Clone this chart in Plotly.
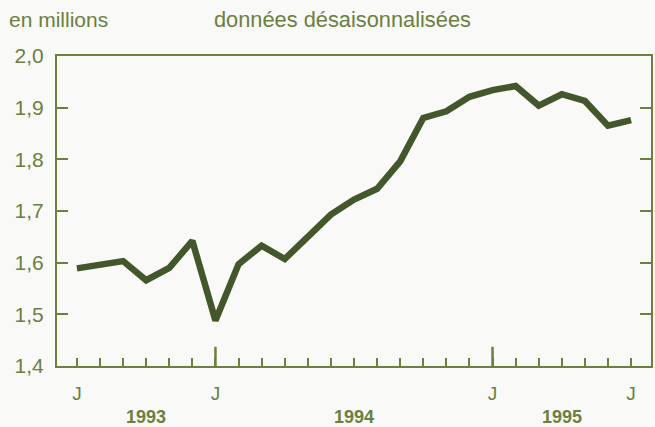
import plotly.graph_objects as go

months = ["1993-07", "1993-08", "1993-09", "1993-10", "1993-11", "1993-12",
          "1994-01", "1994-02", "1994-03", "1994-04", "1994-05", "1994-06",
          "1994-07", "1994-08", "1994-09", "1994-10", "1994-11", "1994-12",
          "1995-01", "1995-02", "1995-03", "1995-04", "1995-05", "1995-06",
          "1995-07"]
values = [1.589, 1.595, 1.603, 1.566, 1.590, 1.642,
          1.488, 1.597, 1.633, 1.607, 1.649, 1.693,
          1.722, 1.743, 1.796, 1.880, 1.893, 1.921,
          1.934, 1.942, 1.904, 1.926, 1.913, 1.865,
          1.876]
month_labels = ["J", "", "", "", "", "", "J", "", "", "", "", "",
                "", "", "", "", "", "", "J", "", "", "", "", "", "J"]
long_tick_idx = [6, 18]
year_labels = ["1993", "1994", "1995"]
year_centers = [3, 12, 21]
y_ticks = [1.4, 1.5, 1.6, 1.7, 1.8, 1.9, 2.0]

GREEN = "#6b8040"
LINE = "#44562b"
BG = "#f9f9f7"
FONT = "Liberation Sans, Arial, sans-serif"

x = list(range(len(months)))

fig = go.Figure()
fig.add_trace(go.Scatter(x=x, y=values, mode="lines",
                         line=dict(color=LINE, width=6.5),
                         hoverinfo="skip", showlegend=False))

for i in long_tick_idx:
    fig.add_shape(type="line", xref="x", yref="paper", x0=i, x1=i,
                  y0=0, y1=0.062, line=dict(color=GREEN, width=2.5))

for lab, c in zip(year_labels, year_centers):
    fig.add_annotation(x=c, y=0, xref="x", yref="paper", text="<b>" + lab + "</b>",
                       showarrow=False, yanchor="middle", yshift=-51,
                       font=dict(family=FONT, size=18, color=GREEN))

fig.add_annotation(x=0, y=1, xref="paper", yref="paper", text="en millions",
                   showarrow=False, xanchor="left", yanchor="middle",
                   xshift=-50, yshift=37,
                   font=dict(family=FONT, size=21, color=GREEN))
fig.add_annotation(x=0, y=1, xref="paper", yref="paper",
                   text="données désaisonnalisées",
                   showarrow=False, xanchor="left", yanchor="middle",
                   xshift=155, yshift=37,
                   font=dict(family=FONT, size=21.8, color=GREEN))

fig.update_layout(
    width=655, height=427,
    margin=dict(l=57, r=2, t=56, b=61),
    paper_bgcolor=BG, plot_bgcolor=BG,
    separators=", ",
    font=dict(family=FONT, color=GREEN),
    xaxis=dict(range=[-0.863, 24.863], tickmode="array", tickvals=x,
               ticktext=month_labels, ticks="inside", ticklen=8,
               tickwidth=2, tickcolor=GREEN, showline=True, linecolor=GREEN,
               linewidth=2, mirror=True, showgrid=False, zeroline=False,
               ticklabelstandoff=9,
               tickfont=dict(family=FONT, size=19, color=GREEN)),
    yaxis=dict(range=[1.4, 2.0], tickmode="array", tickvals=y_ticks,
               tickformat=".1f", ticks="inside", ticklen=11, tickwidth=2,
               tickcolor=GREEN, showline=True, linecolor=GREEN, linewidth=2,
               mirror="ticks", showgrid=False, zeroline=False,
               ticklabelstandoff=7,
               tickfont=dict(family=FONT, size=21, color=GREEN)),
)

fig.write_html("out.html", config={"responsive": False, "displayModeBar": False},
               post_script="document.body.style.margin='0';"
                           "document.body.style.overflow='hidden';")
